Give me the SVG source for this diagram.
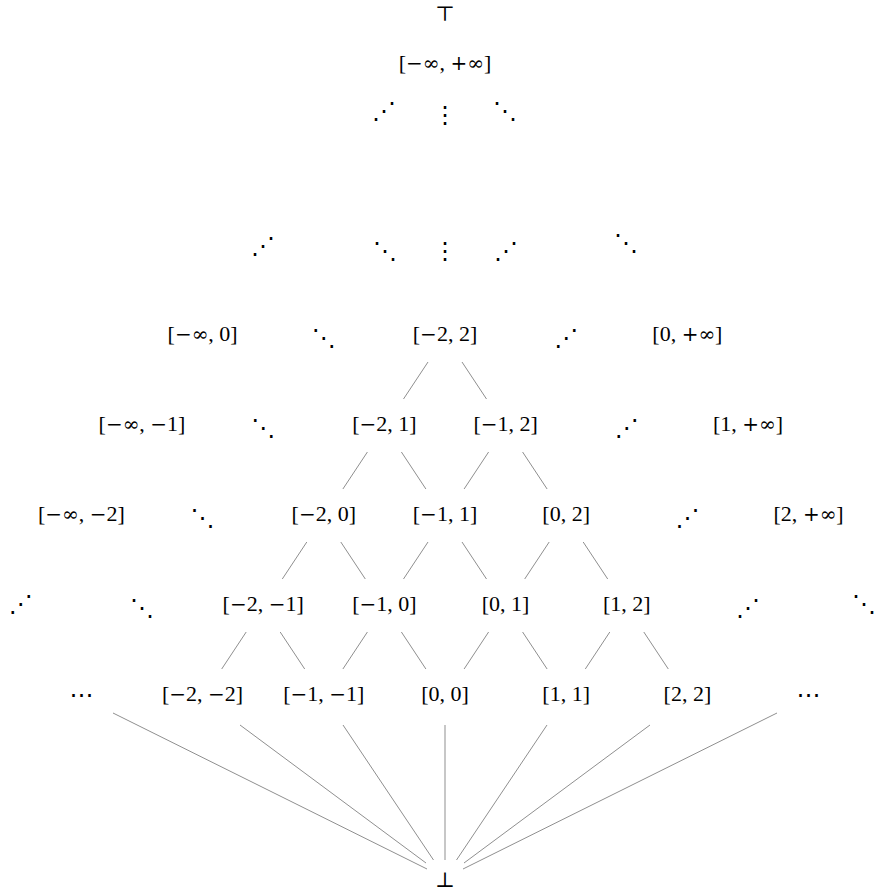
<svg xmlns="http://www.w3.org/2000/svg" width="877" height="893" viewBox="0 0 877 893">
<style>
.t{font-family:"Liberation Serif","DejaVu Serif",serif;font-size:22px;fill:#000;text-anchor:middle}
.t tspan{font-family:"DejaVu Serif","Liberation Serif",serif;font-size:20px}
.s{font-family:"DejaVu Serif","Liberation Serif",serif;font-size:21px;fill:#000;text-anchor:middle}
.d{font-family:"DejaVu Sans",sans-serif;font-size:24px;fill:#000;text-anchor:middle}
.c line{stroke:#8f8f8f;stroke-width:1}
</style>
<rect width="877" height="893" fill="#fff"/>
<g id="connectors" class="c">
<line x1="428" y1="362" x2="403.5" y2="399"/>
<line x1="462" y1="362" x2="486.5" y2="399"/>
<line x1="367.4" y1="452" x2="342.9" y2="489"/>
<line x1="401.4" y1="452" x2="425.9" y2="489"/>
<line x1="488.6" y1="452" x2="464.1" y2="489"/>
<line x1="522.6" y1="452" x2="547.1" y2="489"/>
<line x1="306.8" y1="542" x2="282.3" y2="579"/>
<line x1="340.8" y1="542" x2="365.3" y2="579"/>
<line x1="428" y1="542" x2="403.5" y2="579"/>
<line x1="462" y1="542" x2="486.5" y2="579"/>
<line x1="549.2" y1="542" x2="524.7" y2="579"/>
<line x1="583.2" y1="542" x2="607.7" y2="579"/>
<line x1="246.2" y1="632" x2="221.7" y2="669"/>
<line x1="280.2" y1="632" x2="304.7" y2="669"/>
<line x1="367.4" y1="632" x2="342.9" y2="669"/>
<line x1="401.4" y1="632" x2="425.9" y2="669"/>
<line x1="488.6" y1="632" x2="464.1" y2="669"/>
<line x1="522.6" y1="632" x2="547.1" y2="669"/>
<line x1="609.8" y1="632" x2="585.3" y2="669"/>
<line x1="643.8" y1="632" x2="668.3" y2="669"/>
<line x1="113" y1="713" x2="427" y2="869"/>
<line x1="240" y1="725" x2="426" y2="863"/>
<line x1="343" y1="725" x2="433.5" y2="860"/>
<line x1="445" y1="725" x2="445" y2="860"/>
<line x1="547" y1="725" x2="456.5" y2="860"/>
<line x1="650" y1="725" x2="464" y2="863"/>
<line x1="777" y1="713" x2="463" y2="869"/>
</g>
<g id="top"><text class="s" x="445" y="21">⊤</text></g>
<g id="full"><text class="t" x="445" y="70">[<tspan>−∞</tspan>, <tspan>+∞</tspan>]</text></g>
<g id="d0a"><text class="d" x="384" y="119">⋰</text></g>
<g id="d0b"><text class="d" x="445" y="123">⋮</text></g>
<g id="d0c"><text class="d" x="505" y="119">⋱</text></g>
<g id="d1a"><text class="d" x="263" y="254">⋰</text></g>
<g id="d1b"><text class="d" x="385" y="259">⋱</text></g>
<g id="d1c"><text class="d" x="445" y="259">⋮</text></g>
<g id="d1d"><text class="d" x="506" y="259">⋰</text></g>
<g id="d1e"><text class="d" x="626" y="251">⋱</text></g>
<g id="n_minf_0"><text class="t" x="202.6" y="341">[<tspan>−∞</tspan>, 0]</text></g>
<g id="d2a"><text class="d" x="323.8" y="346">⋱</text></g>
<g id="n_m2_2"><text class="t" x="445" y="341">[<tspan>−</tspan>2, 2]</text></g>
<g id="d2b"><text class="d" x="566.2" y="346">⋰</text></g>
<g id="n_0_pinf"><text class="t" x="687.4" y="341">[0, <tspan>+∞</tspan>]</text></g>
<g id="n_minf_m1"><text class="t" x="142" y="431">[<tspan>−∞</tspan>, <tspan>−</tspan>1]</text></g>
<g id="d3a"><text class="d" x="263.2" y="436">⋱</text></g>
<g id="n_m2_1"><text class="t" x="384.4" y="431">[<tspan>−</tspan>2, 1]</text></g>
<g id="n_m1_2"><text class="t" x="505.6" y="431">[<tspan>−</tspan>1, 2]</text></g>
<g id="d3b"><text class="d" x="626.8" y="436">⋰</text></g>
<g id="n_1_pinf"><text class="t" x="748" y="431">[1, <tspan>+∞</tspan>]</text></g>
<g id="n_minf_m2"><text class="t" x="81.4" y="521">[<tspan>−∞</tspan>, <tspan>−</tspan>2]</text></g>
<g id="d4a"><text class="d" x="202.6" y="526">⋱</text></g>
<g id="n_m2_0"><text class="t" x="323.8" y="521">[<tspan>−</tspan>2, 0]</text></g>
<g id="n_m1_1"><text class="t" x="445" y="521">[<tspan>−</tspan>1, 1]</text></g>
<g id="n_0_2"><text class="t" x="566.2" y="521">[0, 2]</text></g>
<g id="d4b"><text class="d" x="687.4" y="526">⋰</text></g>
<g id="n_2_pinf"><text class="t" x="808.6" y="521">[2, <tspan>+∞</tspan>]</text></g>
<g id="d5a"><text class="d" x="20.8" y="612">⋰</text></g>
<g id="d5b"><text class="d" x="142" y="616">⋱</text></g>
<g id="n_m2_m1"><text class="t" x="263.2" y="611">[<tspan>−</tspan>2, <tspan>−</tspan>1]</text></g>
<g id="n_m1_0"><text class="t" x="384.4" y="611">[<tspan>−</tspan>1, 0]</text></g>
<g id="n_0_1"><text class="t" x="505.6" y="611">[0, 1]</text></g>
<g id="n_1_2"><text class="t" x="626.8" y="611">[1, 2]</text></g>
<g id="d5c"><text class="d" x="748" y="616">⋰</text></g>
<g id="d5d"><text class="d" x="864" y="612">⋱</text></g>
<g id="d6a"><text class="d" x="81.4" y="703">⋯</text></g>
<g id="n_m2_m2"><text class="t" x="202.6" y="701">[<tspan>−</tspan>2, <tspan>−</tspan>2]</text></g>
<g id="n_m1_m1"><text class="t" x="323.8" y="701">[<tspan>−</tspan>1, <tspan>−</tspan>1]</text></g>
<g id="n_0_0"><text class="t" x="445" y="701">[0, 0]</text></g>
<g id="n_1_1"><text class="t" x="566.2" y="701">[1, 1]</text></g>
<g id="n_2_2"><text class="t" x="687.4" y="701">[2, 2]</text></g>
<g id="d6b"><text class="d" x="808.6" y="703">⋯</text></g>
<g id="bottom"><text class="s" x="445" y="887">⊥</text></g>
</svg>
